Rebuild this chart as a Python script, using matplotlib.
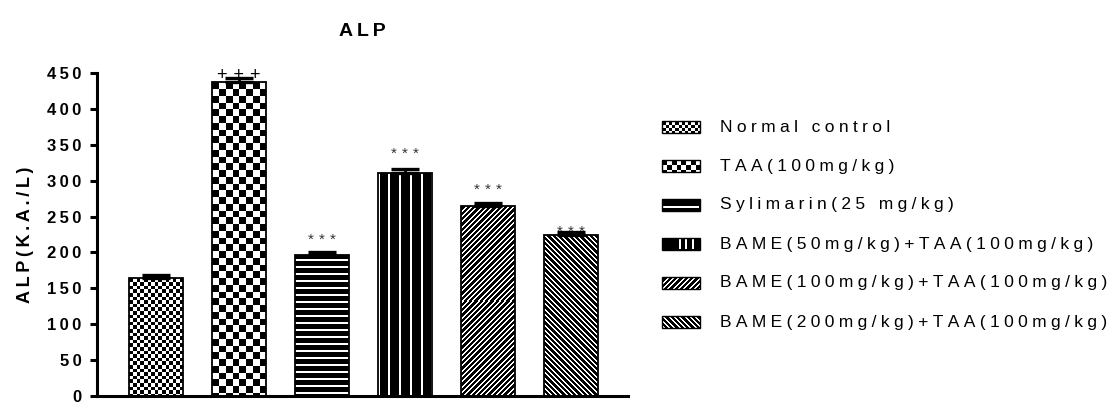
import numpy as np
import matplotlib
matplotlib.use("Agg")
import matplotlib.pyplot as plt

plt.rcParams['font.family'] = ['Liberation Sans', 'DejaVu Sans']

# ---- data -------------------------------------------------------------
groups = ['Normal control', 'TAA(100mg/kg)', 'Sylimarin(25 mg/kg)',
          'BAME(50mg/kg)+TAA(100mg/kg)', 'BAME(100mg/kg)+TAA(100mg/kg)',
          'BAME(200mg/kg)+TAA(100mg/kg)']
alp_mean = [164, 437, 196, 311, 265, 224]
alp_sem = [5, 6, 5, 5, 4.5, 4]
significance = ['', '+++', '***', '***', '***', '***']
y_ticks = [0, 50, 100, 150, 200, 250, 300, 350, 400, 450]

# ---- styling ----------------------------------------------------------
patterns = ['fine_checker', 'checker', 'hlines', 'vlines', 'diag_up', 'diag_down']
sig_offset = [0, 3, 16, 21, 17, 0]
W, H, DPI = 1114, 404, 100
GAP = '\u2004'


def spaced(s, gap=GAP):
    return gap.join(s)


def pattern(kind, h, w, legend=False):
    """Return an RGB array (h x w) filled with a black/white fill pattern."""
    y, x = np.mgrid[0:h, 0:w].astype(float)
    if kind == 'fine_checker':
        c = 3.6 if not legend else 3.2
        black = ((x // c + y // c) % 2) == 0
    elif kind == 'checker':
        c = 6.75 if not legend else 4.75
        black = ((x // c + y // c) % 2) == 0
    elif kind == 'hlines':
        p = 7.0
        black = ((y + 3) % p) >= 1.6
        if legend:
            black = np.ones_like(x, bool)
            black[int(h * 0.6):int(h * 0.6) + 2, 1:-1] = False
    elif kind == 'vlines':
        p = 10.7
        black = ((x - 10) % p) >= 2.0
        if legend:
            black = np.ones_like(x, bool)
            for cx in (w * 0.45, w * 0.62, w * 0.8):
                black[1:-1, int(cx):int(cx) + 2] = False
    elif kind == 'diag_up':
        black = ((x + y) % 5.3) >= 2.0
    else:
        black = ((x - y) % 5.3) >= 2.0
    val = np.where(black, 0.0, 1.0)
    return np.dstack([val, val, val])


fig = plt.figure(figsize=(W / DPI, H / DPI), dpi=DPI)
ax = fig.add_axes([97 / W, (H - 396) / H, (628 - 97) / W, (396 - 73) / H])

x = np.arange(len(groups))
bar_w = 0.65
ax.set_xlim(-0.71, 5.69)
ax.set_ylim(0, 450)

bars = ax.bar(x, alp_mean, width=bar_w, facecolor='none',
              edgecolor='black', linewidth=1.3, zorder=3)

# pixel size of one data unit, used to build fills at screen resolution
px_per_x = (628 - 97) / (5.69 + 0.71)
px_per_y = (396 - 73) / 450.0
for rect, kind in zip(bars, patterns):
    x0, w = rect.get_x(), rect.get_width()
    hgt = rect.get_height()
    npx_w = max(int(round(w * px_per_x)), 1)
    npx_h = max(int(round(hgt * px_per_y)), 1)
    im = ax.imshow(pattern(kind, npx_h, npx_w), extent=(x0, x0 + w, 0, hgt),
                   origin='upper', interpolation='nearest', aspect='auto',
                   zorder=2)
    im.set_clip_path(rect)

ax.errorbar(x, alp_mean, yerr=[np.zeros(len(x)), alp_sem], fmt='none',
            ecolor='black', elinewidth=2, capsize=10, capthick=2.4, zorder=4)

for xi, m, e, s, off in zip(x, alp_mean, alp_sem, significance, sig_offset):
    if not s:
        continue
    if s.startswith('+'):
        ax.text(xi, m + e + off, spaced(s), ha='center', va='center',
                fontsize=13, color='black', zorder=5)
    else:
        ax.text(xi, m + e + off, spaced(s), ha='center', va='center',
                fontsize=11, color='#333333', zorder=5)

ax.set_xlim(-0.71, 5.69)
ax.set_ylim(0, 450)
ax.set_xticks([])
ax.set_yticks(y_ticks)
ax.set_yticklabels([spaced(str(t), '\u2009') for t in y_ticks], fontsize=12,
                   fontweight='bold')
ax.tick_params(axis='y', direction='out', length=5, width=2.2, pad=6)
for side in ('top', 'right'):
    ax.spines[side].set_visible(False)
for side in ('left', 'bottom'):
    ax.spines[side].set_linewidth(2.2)
ax.set_ylabel(spaced('ALP(K.A./L)', '\u2009'), fontsize=13, fontweight='bold')
ax.yaxis.set_label_coords((34 - 97) / (628 - 97), 0.5)

# ---- title and legend drawn in figure pixel space ----------------------
over = fig.add_axes([0, 0, 1, 1], zorder=10)
over.set_xlim(0, W)
over.set_ylim(H, 0)
over.axis('off')
over.patch.set_alpha(0)

over.text(362, 31, spaced('ALP', '\u2009'), ha='center', va='center',
          fontsize=14, fontweight='bold')

row_y = [127, 166, 205, 244, 283, 322]
for label, kind, yc in zip(groups, patterns, row_y):
    lw_, lh_ = 38, 12
    x0, y0 = 662, yc - lh_ / 2
    over.imshow(pattern(kind, lh_, lw_, legend=True),
                extent=(x0, x0 + lw_, y0 + lh_, y0), origin='upper',
                interpolation='nearest', aspect='auto')
    over.add_patch(plt.Rectangle((x0, y0), lw_, lh_, fill=False,
                                 edgecolor='black', linewidth=1.0))
    over.text(720, yc, spaced(label, '\u2005'), ha='left', va='center',
              fontsize=12.5)
over.set_xlim(0, W)
over.set_ylim(H, 0)

fig.savefig('out.png', dpi=DPI)
